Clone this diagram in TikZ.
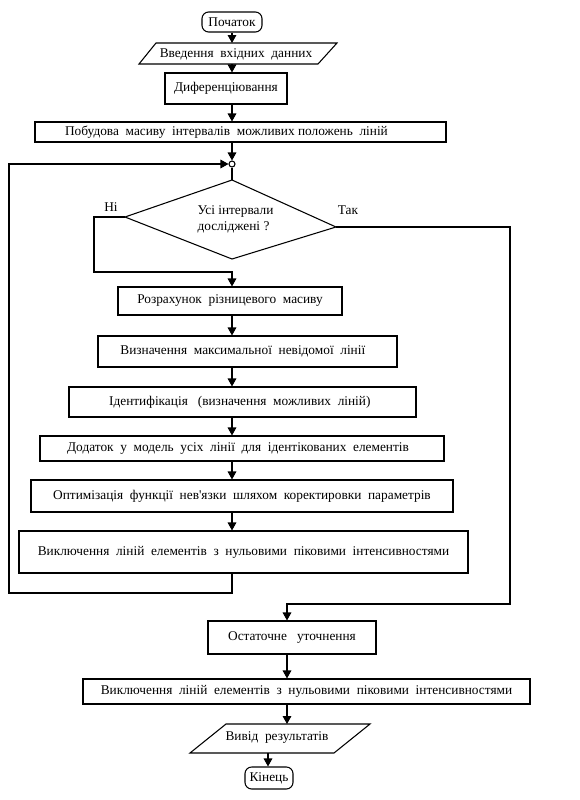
\documentclass[tikz,border=0pt]{standalone}
\usepackage{fontspec}
\setmainfont{Liberation Serif}
\usetikzlibrary{arrows.meta}
\newdimen\pxu \pxu=0.75pt
\begin{document}
\begin{tikzpicture}[x=0.75pt,y=-0.75pt,line width=0.8pt,
  every node/.style={font=\fontsize{10}{12}\selectfont},
  box/.style={draw,inner sep=0pt},
  term/.style={box,rounded corners=5pt},
  txt/.style={inner sep=0pt},
  wh/.style 2 args={minimum width=#1\pxu,minimum height=#2\pxu},
  arr/.style={-{Triangle[width=6.5pt,length=6pt]}}]
\useasboundingbox (0,0) rectangle (580,800);
\coordinate (ax) at (232,0);
\coordinate (bx) at (287,0);
% top part
\node[term,wh={60}{20}] (start) at (232,22) {Початок};
\coordinate (inpT) at (232,43);
\coordinate (inpB) at (232,64);
\draw (156,43) -- (337,43) -- (318,64) -- (139,64) -- cycle;
\node[txt] (inp) at (236,54) {Введення\ \ вхідних\ \ данних};
\node[box,wh={122}{31}] (dif) at (226,88.5) {Диференціювання};
\node[box,wh={411}{20}] (bld) at (240.5,132) {Побудова\ \ масиву\ \ інтервалів\ \ можливих положень\ \ ліній\hspace*{21pt}};
\node[circle,draw,fill=white,minimum size=4.5pt,inner sep=0pt] (jn) at (232,164) {};
% decision
\coordinate (dT) at (232,180);
\coordinate (dR) at (336,227);
\coordinate (dB) at (232,259);
\coordinate (dL) at (125,217);
\draw (dT) -- (dR) -- (dB) -- (dL) -- cycle;
\node[txt,align=left,anchor=west] (q) at (197,219) {Усі\ інтервали\\досліджені ?};
\node[txt] (no) at (111,207) {Ні};
\node[txt] (yes) at (348,210) {Так};
% loop body
\node[box,wh={224}{28}] (calc) at (230,301) {Розрахунок\ \ різницевого\ \ масиву};
\node[box,wh={299}{31}] (maxl) at (247.5,351.5) {Визначення\ \ максимальної\ \ невідомої\ \ лінії\hspace*{7pt}};
\node[box,wh={347}{30}] (ident) at (242.5,402) {Ідентифікація\ \ \ (визначення\ \ можливих\ \ ліній)\hspace*{4pt}};
\node[box,wh={404}{25}] (add) at (242,448.5) {Додаток\ \ у\ \ модель\ \ усіх\ \ лінії\ \ для\ \ ідентікованих\ \ елементів\hspace*{6pt}};
\node[box,wh={422}{32}] (opt) at (242,496) {Оптимізація\ \ функції\ \ нев\textquotesingle язки\ \ шляхом\ \ коректировки\ \ параметрів};
\node[box,wh={449}{42}] (excl) at (243.5,552) {Виключення\ \ ліній\ \ елементів\ \ з\ \ нульовими\ \ піковими\ \ інтенсивностями};
% final part
\node[box,wh={168}{33}] (fin) at (292,637.5) {Остаточне\ \ \ уточнення};
\node[box,wh={447}{25}] (excl2) at (306.5,691.5) {Виключення\ \ ліній\ \ елементів\ \ з\ \ нульовими\ \ піковими\ \ інтенсивностями};
\coordinate (outT) at (287,724);
\coordinate (outB) at (268,753);
\draw (226,724) -- (370,724) -- (334,753) -- (190,753) -- cycle;
\node[txt] (out) at (277,738) {Вивід\ \ результатів};
\node[term,wh={48}{22}] (end) at (269,778) {Кінець};
% connectors
\draw[arr] (start) -- (inpT);
\draw[arr] (inpB) -- (inpB |- dif.north);
\draw[arr] (dif.south -| ax) -- (bld.north -| ax);
\draw[arr] (bld.south -| ax) -- (jn.north);
\draw (jn.south) -- (dT);
\coordinate (nl) at (94,272);
\draw[arr] (dL) -| (nl) -| (calc.north -| ax);
\draw[arr] (calc.south -| ax) -- (maxl.north -| ax);
\draw[arr] (maxl.south -| ax) -- (ident.north -| ax);
\draw[arr] (ident.south -| ax) -- (add.north -| ax);
\draw[arr] (add.south -| ax) -- (opt.north -| ax);
\draw[arr] (opt.south -| ax) -- (excl.north -| ax);
\coordinate (lb) at (9,593);
\draw[arr] (excl.south -| ax) |- (lb) |- (jn.west);
\coordinate (yr) at (510,604);
\draw[arr] (dR) -| (yr) -| (fin.north -| bx);
\draw[arr] (fin.south -| bx) -- (excl2.north -| bx);
\draw[arr] (excl2.south -| bx) -- (outT);
\draw[arr] (outB) -- (end.north -| outB);
\end{tikzpicture}
\end{document}
